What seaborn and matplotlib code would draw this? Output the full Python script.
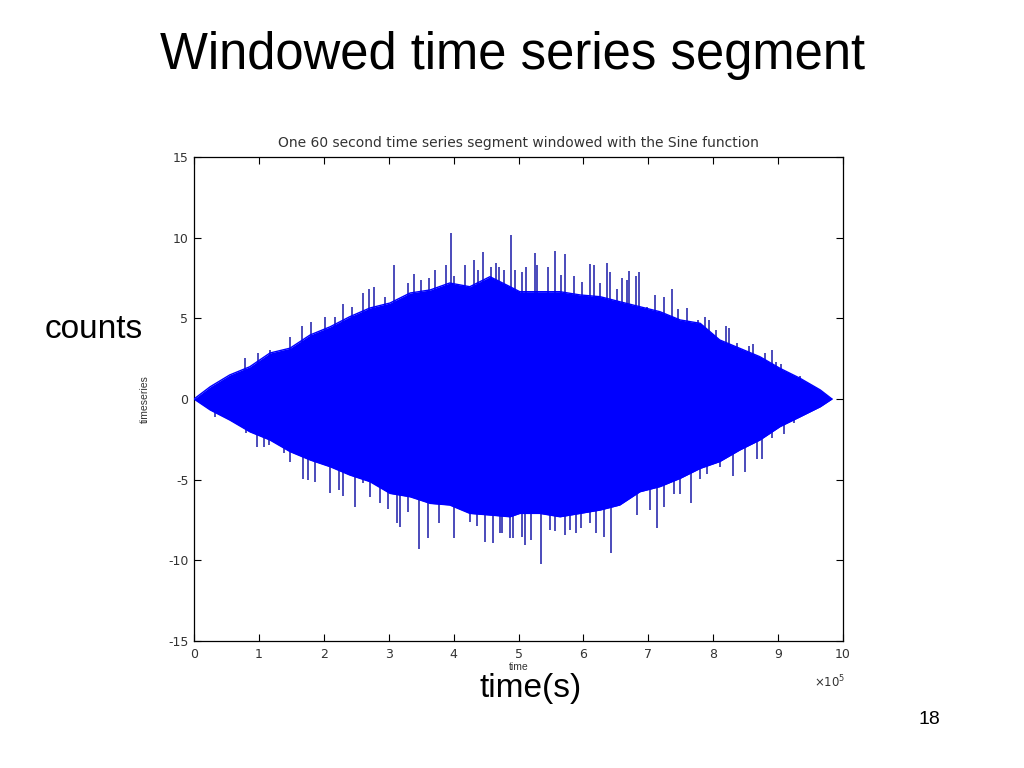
import numpy as np
import pandas as pd
import matplotlib
matplotlib.use("Agg")
import matplotlib.pyplot as plt
import seaborn as sns

# ---------------- data (time in units of 1e5 samples) ----------------
upper_t = [0.00, 0.25, 0.55, 0.86, 1.17, 1.48, 1.79, 2.10, 2.40, 2.71, 3.02, 3.33,
           3.64, 3.94, 4.25, 4.56, 4.87, 5.02, 5.33, 5.64, 5.95, 6.26, 6.56, 6.87,
           7.18, 7.49, 7.80, 8.10, 8.41, 8.72, 9.03, 9.34, 9.65, 9.83]
upper_v = [0.00, 0.76, 1.49, 2.00, 2.85, 3.15, 3.97, 4.48, 5.10, 5.64, 5.95, 6.57,
           6.76, 7.19, 6.96, 7.58, 6.96, 6.65, 6.65, 6.65, 6.45, 6.34, 6.03, 5.72,
           5.41, 4.90, 4.69, 3.66, 3.14, 2.62, 1.90, 1.28, 0.56, 0.00]

lower_t = [0.00, 0.25, 0.55, 0.86, 1.17, 1.48, 1.79, 2.10, 2.40, 2.71, 3.02, 3.33,
           3.64, 3.94, 4.25, 4.56, 4.87, 5.02, 5.33, 5.64, 5.95, 6.26, 6.56, 6.87,
           7.18, 7.49, 7.80, 8.10, 8.41, 8.72, 9.03, 9.34, 9.65, 9.83]
lower_v = [0.00, -0.68, -1.30, -2.03, -2.54, -3.26, -3.78, -4.20, -4.71, -5.12, -5.85, -6.06,
           -6.47, -6.57, -7.09, -7.19, -7.30, -7.09, -7.09, -7.30, -7.09, -6.88, -6.57, -5.75,
           -5.43, -4.92, -4.30, -3.88, -3.16, -2.54, -1.71, -1.10, -0.48, 0.00]

spike_up_t = [0.79, 0.99, 1.17, 1.48, 1.66, 1.81, 2.02, 2.17, 2.30, 2.43, 2.60, 2.70,
              2.78, 2.95, 3.08, 3.30, 3.39, 3.49, 3.62, 3.71, 3.89, 3.96, 4.01, 4.18,
              4.31, 4.38, 4.46, 4.58, 4.65, 4.70, 4.78, 4.89, 4.94, 5.05, 5.11, 5.25,
              5.29, 5.46, 5.57, 5.65, 5.72, 5.86, 5.98, 6.10, 6.17, 6.26, 6.37, 6.41,
              6.52, 6.59, 6.67, 6.71, 6.81, 6.85, 6.98, 7.10, 7.24, 7.36, 7.45, 7.59,
              7.76, 7.87, 7.93, 8.05, 8.19, 8.25, 8.37, 8.55, 8.62, 8.80, 8.90, 8.97,
              9.05, 9.18, 9.34, 9.46]
spike_up_v = [2.54, 2.87, 3.04, 3.86, 4.53, 4.79, 5.06, 5.06, 5.89, 5.68, 6.59, 6.80,
              6.96, 6.30, 8.31, 7.21, 7.75, 7.38, 7.48, 8.00, 8.31, 10.27, 7.60, 8.31,
              8.62, 8.00, 9.13, 8.20, 8.41, 8.20, 8.00, 10.17, 8.00, 7.90, 8.20, 9.03,
              8.31, 8.20, 9.17, 7.70, 8.99, 7.60, 7.27, 8.37, 8.30, 7.17, 8.45, 7.90,
              6.80, 7.50, 7.38, 7.95, 7.60, 7.90, 5.72, 6.45, 6.30, 6.80, 5.60, 5.65,
              4.90, 5.10, 4.90, 4.28, 4.53, 4.40, 3.49, 3.30, 3.40, 2.83, 3.04, 2.30,
              2.20, 1.60, 1.40, 1.00]

spike_dn_t = [0.32, 0.80, 0.97, 1.08, 1.16, 1.39, 1.48, 1.68, 1.75, 1.86, 2.10, 2.23,
              2.29, 2.48, 2.61, 2.71, 2.86, 2.99, 3.13, 3.17, 3.30, 3.46, 3.60, 3.77,
              4.00, 4.25, 4.36, 4.48, 4.61, 4.72, 4.74, 4.87, 4.91, 5.05, 5.10, 5.20,
              5.35, 5.49, 5.56, 5.72, 5.79, 5.88, 5.97, 6.10, 6.20, 6.31, 6.42, 6.82,
              7.02, 7.13, 7.24, 7.39, 7.49, 7.66, 7.80, 7.91, 8.10, 8.30, 8.49, 8.67,
              8.75, 8.90, 9.09, 9.25]
spike_dn_v = [-1.10, -2.13, -2.96, -2.96, -2.85, -3.37, -3.88, -4.98, -5.00, -5.12, -5.85, -5.65,
              -6.02, -6.72, -5.20, -6.06, -6.47, -6.80, -7.71, -7.96, -7.00, -9.32, -8.64, -7.71,
              -8.64, -7.60, -7.90, -8.85, -8.91, -8.33, -8.33, -8.64, -8.64, -8.54, -9.05, -8.75,
              -10.23, -8.10, -8.20, -8.43, -8.10, -8.33, -8.00, -7.70, -8.33, -8.54, -9.53, -7.20,
              -6.90, -8.02, -6.70, -5.90, -5.90, -6.43, -4.95, -4.65, -4.20, -4.77, -4.50, -3.70,
              -3.70, -2.40, -2.20, -1.50]

x_ticks = [0, 1, 2, 3, 4, 5, 6, 7, 8, 9, 10]
y_ticks = [-15, -10, -5, 0, 5, 10, 15]

slide_title = "Windowed time series segment"
plot_title = "One 60 second time series segment windowed with the Sine function"

# ---------------- figure ----------------
sns.set_theme(style="white")
plt.rcParams['font.family'] = ['Liberation Sans', 'DejaVu Sans']

fig = plt.figure(figsize=(10.24, 7.68), dpi=100)
ax = fig.add_axes([194/1024, 1 - 641/768, (843-194)/1024, (641-157)/768])

blue = "#0000ff"
env_up = pd.DataFrame({"t": upper_t, "v": upper_v})
env_dn = pd.DataFrame({"t": lower_t, "v": lower_v})
# spikes first, hidden inside the body
ax.vlines(spike_up_t, 0, spike_up_v, color="#1a1aa8", linewidth=1.1, zorder=1)
ax.vlines(spike_dn_t, 0, spike_dn_v, color="#1a1aa8", linewidth=1.1, zorder=1)
ax.fill_between(upper_t, upper_v, np.interp(upper_t, lower_t, lower_v),
                color=blue, linewidth=0, zorder=2)
sns.lineplot(data=env_up, x="t", y="v", ax=ax, color=blue, linewidth=1.0, sort=True, zorder=3)
sns.lineplot(data=env_dn, x="t", y="v", ax=ax, color=blue, linewidth=1.0, sort=True, zorder=3)

ax.set_xlim(0, 10)
ax.set_ylim(-15, 15)
ax.set_xticks(x_ticks)
ax.set_yticks(y_ticks)
ax.set_xticklabels([str(t) for t in x_ticks])
ax.set_yticklabels([str(t) for t in y_ticks])
ax.tick_params(direction="in", length=5, width=0.8, top=True, right=True,
               bottom=True, left=True, labelsize=9, labelcolor="#333333",
               color="black")
ax.tick_params(axis="x", pad=5)
ax.tick_params(axis="y", pad=4)
for lab in ax.get_xticklabels() + ax.get_yticklabels():
    lab.set_family("DejaVu Sans")
for s in ax.spines.values():
    s.set_color("black")
    s.set_linewidth(0.9)
    s.set_visible(True)

ax.set_xlabel("time", fontsize=7.5, color="#333333")
ax.xaxis.set_label_coords(0.5, -0.044)
ax.set_ylabel("timeseries", fontsize=7.5, color="#333333")
ax.yaxis.set_label_coords(-0.068, 0.5)
ax.set_title(plot_title, fontsize=10, color="#333333", pad=7, family="DejaVu Sans")
ax.text(1.003, -0.068, r"$\times10^{5}$", transform=ax.transAxes, ha="right",
        va="top", fontsize=8.5, color="#333333")

# slide-level text
fig.text(0.5, 1 - 55/768, slide_title, ha="center", va="center", fontsize=36.5,
         color="black")
fig.text(94/1024, 1 - 330/768, "counts", ha="center", va="center", fontsize=24,
         color="black")
fig.text(531/1024, 1 - 689/768, "time(s)", ha="center", va="center", fontsize=24,
         color="black")
fig.text(929/1024, 1 - 719/768, "18", ha="center", va="center", fontsize=14,
         color="black")

fig.savefig("out.png", dpi=100)
